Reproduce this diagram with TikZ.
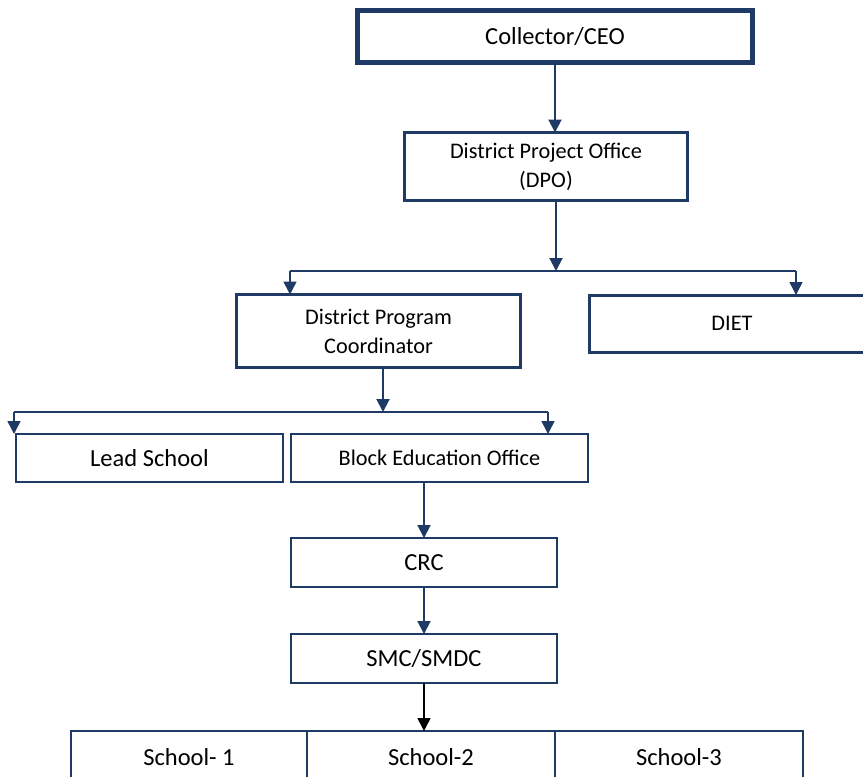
\documentclass[tikz,border=0pt]{standalone}
\usepackage{fontspec}
\setmainfont{Carlito}
\usetikzlibrary{positioning}
\usetikzlibrary{arrows.meta}
\definecolor{navy}{HTML}{1F3A64}

\begin{document}
\begin{tikzpicture}[
            x = 1pt, y = -1pt, % pixel grid of the chart
            > = {Triangle[width=13pt,length=13pt]}, % arrow head style
            semithick % line style
        ]

        \tikzstyle{box}=[
            draw = navy,
            line width = 2pt,
            fill = white,
            inner sep = 0pt,
            outer sep = 0pt,
            align = center,
            font = \fontsize{24.5}{30}\selectfont
        ]
        \tikzstyle{small}=[font = \fontsize{22.3}{29}\selectfont]
        \tikzstyle{arr}=[->, draw = navy, fill = navy, line width = 2pt]
        \tikzstyle{fork}=[draw = navy, line width = 1.5pt]

        \useasboundingbox (0,0) rectangle (863,777);
        \clip (0,0) rectangle (863,777);

	% district level
        \node[box, line width = 5pt, minimum width = 395pt, minimum height = 52pt] (ceo) at (555,36.5) {Collector/CEO};
        \node[box, small, line width = 3.5pt, minimum width = 283pt, minimum height = 68pt] (dpo) at (546,166.5) {District Project Office\\(DPO)};

        \draw[arr] (ceo.south) -- (ceo.south |- dpo.north);

        \node[box, small, line width = 3.5pt, minimum width = 284pt, minimum height = 73pt] (dpc) at (378.5,331) {District Program\\Coordinator};
        \node[box, small, line width = 3pt, minimum width = 286pt, minimum height = 57pt] (diet) at (732,323.5) {DIET};

        \coordinate (f1) at (556,271);
        \coordinate (f1l) at (290,271);
        \coordinate (f1r) at (796,271);
        \draw[arr] (f1 |- dpo.south) -- (f1);
        \draw[fork] (f1l) -- (f1r);
        \draw[arr, line width = 1.5pt] (f1l) -- (f1l |- dpc.north);
        \draw[arr, line width = 1.5pt] (f1r) -- (f1r |- diet.north);

	% block level
        \node[box, minimum width = 267pt, minimum height = 48pt] (lead) at (149.5,458) {Lead School};
        \node[box, small, minimum width = 297pt, minimum height = 48pt] (beo) [right = 8pt of lead] {Block Education Office};

        \coordinate (f2) at (383,412);
        \coordinate (f2l) at (14,412);
        \coordinate (f2r) at (548,412);
        \draw[arr] (f2 |- dpc.south) -- (f2);
        \draw[fork] (f2l) -- (f2r);
        \draw[arr, line width = 1.5pt] (f2l) -- (f2l |- lead.north);
        \draw[arr, line width = 1.5pt] (f2r) -- (f2r |- beo.north);

	% cluster level
        \node[box, minimum width = 266pt, minimum height = 49pt] (crc) at (424,562.5) {CRC};
        \node[box, minimum width = 266pt, minimum height = 49pt] (smc) [below = 47pt of crc] {SMC/SMDC};

        \draw[arr] (beo.south -| crc.north) -- (crc.north);
        \draw[arr] (crc) -- (smc);

	% schools
        \node[box, minimum width = 236pt, minimum height = 52pt] (school1) at (189,757) {School- 1};
        \node[box, minimum width = 248pt, minimum height = 52pt] (school2) [right = 0pt of school1] {School-2};
        \node[box, minimum width = 248pt, minimum height = 52pt] (school3) [right = 0pt of school2] {School-3};

        \draw[->, black, line width = 1.5pt] (smc.south) -- (smc.south |- school2.north);

  \end{tikzpicture}
\end{document}
